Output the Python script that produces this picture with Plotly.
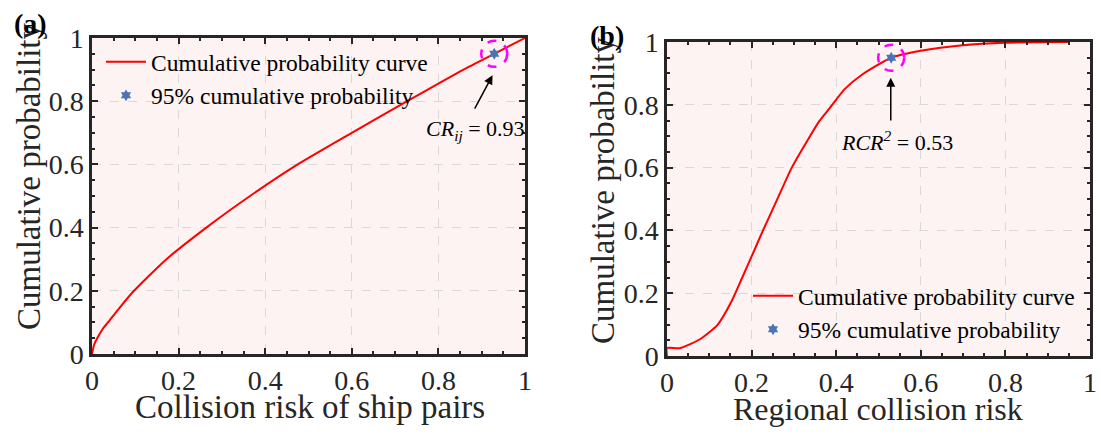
import plotly.graph_objects as go

# ---------------- data ----------------
# Panel (a): cumulative probability vs collision risk of ship pairs
a_x = [0.0, 0.005, 0.012, 0.025, 0.037, 0.06, 0.097, 0.172, 0.264, 0.365, 0.475, 0.6, 0.728, 0.858, 0.929, 1.0]
a_y = [0.0, 0.03, 0.05, 0.08, 0.10, 0.14, 0.20, 0.30, 0.40, 0.50, 0.60, 0.70, 0.80, 0.90, 0.95, 1.0]
a_pt_x = [0.929]
a_pt_y = [0.95]

# Panel (b): cumulative probability vs regional collision risk
b_x = [0.0, 0.0, 0.03, 0.08, 0.12, 0.153, 0.178, 0.2, 0.227, 0.26, 0.295, 0.338, 0.36, 0.385,
       0.42, 0.46, 0.53, 0.6, 0.7, 0.8, 0.95]
b_y = [0.0, 0.025, 0.025, 0.055, 0.10, 0.175, 0.25, 0.317, 0.40, 0.497, 0.60, 0.70, 0.748, 0.79,
       0.85, 0.895, 0.95, 0.972, 0.99, 0.998, 1.0]
b_pt_x = [0.53]
b_pt_y = [0.95]

tick_vals = [0, 0.2, 0.4, 0.6, 0.8, 1]
tick_text = ["0", "0.2", "0.4", "0.6", "0.8", "1"]

# ---------------- styling ----------------
FONT = "Liberation Serif, Times New Roman, serif"
DARK = "#262626"
BG = "#FDF3F2"
RED = "#FF0000"
BLUE = "#4A74B5"
MAG = "#FF00FF"
W, H = 1101, 434

fig = go.Figure()

fig.add_trace(go.Scatter(x=a_x, y=a_y, mode="lines", line=dict(color=RED, width=2, shape="spline", smoothing=0.6),
                         name="Cumulative probability curve", xaxis="x", yaxis="y", legend="legend"))
fig.add_trace(go.Scatter(x=a_pt_x, y=a_pt_y, mode="markers",
                         marker=dict(symbol="hexagram", size=9, color=BLUE),
                         name="95% cumulative probability", xaxis="x", yaxis="y", legend="legend"))
fig.add_trace(go.Scatter(x=b_x, y=b_y, mode="lines", line=dict(color=RED, width=2, shape="spline", smoothing=0.6),
                         name="Cumulative probability curve", xaxis="x2", yaxis="y2", legend="legend2"))
fig.add_trace(go.Scatter(x=b_pt_x, y=b_pt_y, mode="markers",
                         marker=dict(symbol="hexagram", size=9, color=BLUE),
                         name="95% cumulative probability", xaxis="x2", yaxis="y2", legend="legend2"))


def px_x(p):
    return p / W


def px_y(p):
    return 1 - p / H


axis_common = dict(
    range=[0, 1], tickvals=tick_vals, ticktext=tick_text, automargin=False,
    ticklabeloverflow="allow",
    showline=True, linewidth=2.5, linecolor=DARK, mirror="allticks",
    ticks="inside", ticklen=6, tickwidth=1.5, tickcolor=DARK,
    showgrid=True, gridcolor="#D9D9D9", gridwidth=1, griddash="dash",
    zeroline=False,
    tickfont=dict(family=FONT, size=28, color=DARK),
    minor=dict(ticks="inside", ticklen=3, tickwidth=1.5, tickcolor=DARK, dtick=0.05, tick0=0, showgrid=False),
    fixedrange=True,
)

fig.update_layout(
    width=W, height=H,
    margin=dict(l=0, r=0, t=0, b=0, autoexpand=False),
    paper_bgcolor="white",
    plot_bgcolor=BG,
    showlegend=True,
    xaxis=dict(axis_common, domain=[px_x(92), px_x(525)], anchor="y"),
    yaxis=dict(axis_common, domain=[px_y(354), px_y(38)], anchor="x"),
    xaxis2=dict(axis_common, domain=[px_x(667), px_x(1090)], anchor="y2"),
    yaxis2=dict(axis_common, domain=[px_y(356), px_y(42)], anchor="x2"),
    legend=dict(x=px_x(101), y=px_y(40), xanchor="left", yanchor="top",
                bgcolor="rgba(0,0,0,0)", font=dict(family=FONT, size=23.5, color="black"),
                itemwidth=40, tracegroupgap=0),
    legend2=dict(x=px_x(748), y=px_y(274), xanchor="left", yanchor="top",
                 bgcolor="rgba(0,0,0,0)", font=dict(family=FONT, size=23.5, color="black"),
                 itemwidth=40, tracegroupgap=0),
)

# highlight circles (pixel-sized, anchored on the data point)
for xr, yr, px_, py_ in [("x", "y", a_pt_x[0], a_pt_y[0]), ("x2", "y2", b_pt_x[0], b_pt_y[0])]:
    fig.add_shape(type="circle", xref=xr, yref=yr, xsizemode="pixel", ysizemode="pixel",
                  xanchor=px_, yanchor=py_, x0=-13, x1=13, y0=-13, y1=13,
                  line=dict(color=MAG, width=2.5, dash="dash"))

ann = []
# arrows
ann.append(dict(x=0.925, y=0.882, ax=0.882, ay=0.772, xref="x", yref="y", axref="x", ayref="y",
                text="", showarrow=True, arrowhead=2, arrowsize=1.2, arrowwidth=1.5, arrowcolor="black"))
ann.append(dict(x=0.529, y=0.886, ax=0.529, ay=0.745, xref="x2", yref="y2", axref="x2", ayref="y2",
                text="", showarrow=True, arrowhead=2, arrowsize=1.2, arrowwidth=1.5, arrowcolor="black"))
# annotation texts
ann.append(dict(x=0.885, y=0.71, xref="x", yref="y", showarrow=False, xanchor="center", yanchor="middle",
                text="<i>CR</i><sub><i>ij</i></sub> = 0.93",
                font=dict(family=FONT, size=22, color="black")))
ann.append(dict(x=0.544, y=0.685, xref="x2", yref="y2", showarrow=False, xanchor="center", yanchor="middle",
                text="<i>RCR</i><sup><i>2</i></sup> = 0.53",
                font=dict(family=FONT, size=22, color="black")))
# axis titles
ann.append(dict(x=px_x(310), y=px_y(407), xref="paper", yref="paper", showarrow=False,
                xanchor="center", yanchor="middle",
                text="Collision risk of ship pairs", font=dict(family=FONT, size=33, color=DARK)))
ann.append(dict(x=px_x(878), y=px_y(409), xref="paper", yref="paper", showarrow=False,
                xanchor="center", yanchor="middle",
                text="Regional collision risk", font=dict(family=FONT, size=32, color=DARK)))
ann.append(dict(x=px_x(29), y=px_y(176), xref="paper", yref="paper", showarrow=False, textangle=-90,
                xanchor="center", yanchor="middle",
                text="Cumulative probability", font=dict(family=FONT, size=33, color=DARK)))
ann.append(dict(x=px_x(603), y=px_y(190), xref="paper", yref="paper", showarrow=False, textangle=-90,
                xanchor="center", yanchor="middle",
                text="Cumulative probability", font=dict(family=FONT, size=33, color=DARK)))
# panel labels
ann.append(dict(x=px_x(30), y=px_y(24), xref="paper", yref="paper", showarrow=False,
                xanchor="center", yanchor="middle",
                text="<b>(a)</b>", font=dict(family=FONT, size=28, color="black")))
ann.append(dict(x=px_x(607), y=px_y(36), xref="paper", yref="paper", showarrow=False,
                xanchor="center", yanchor="middle",
                text="<b>(b)</b>", font=dict(family=FONT, size=28, color="black")))
fig.update_layout(annotations=ann)

# remove the default page margin so the figure fills the 1101x434 window exactly
fig.write_html("out.html", config={"displayModeBar": False},
               post_script="document.body.style.margin='0';document.body.style.overflow='hidden';")
